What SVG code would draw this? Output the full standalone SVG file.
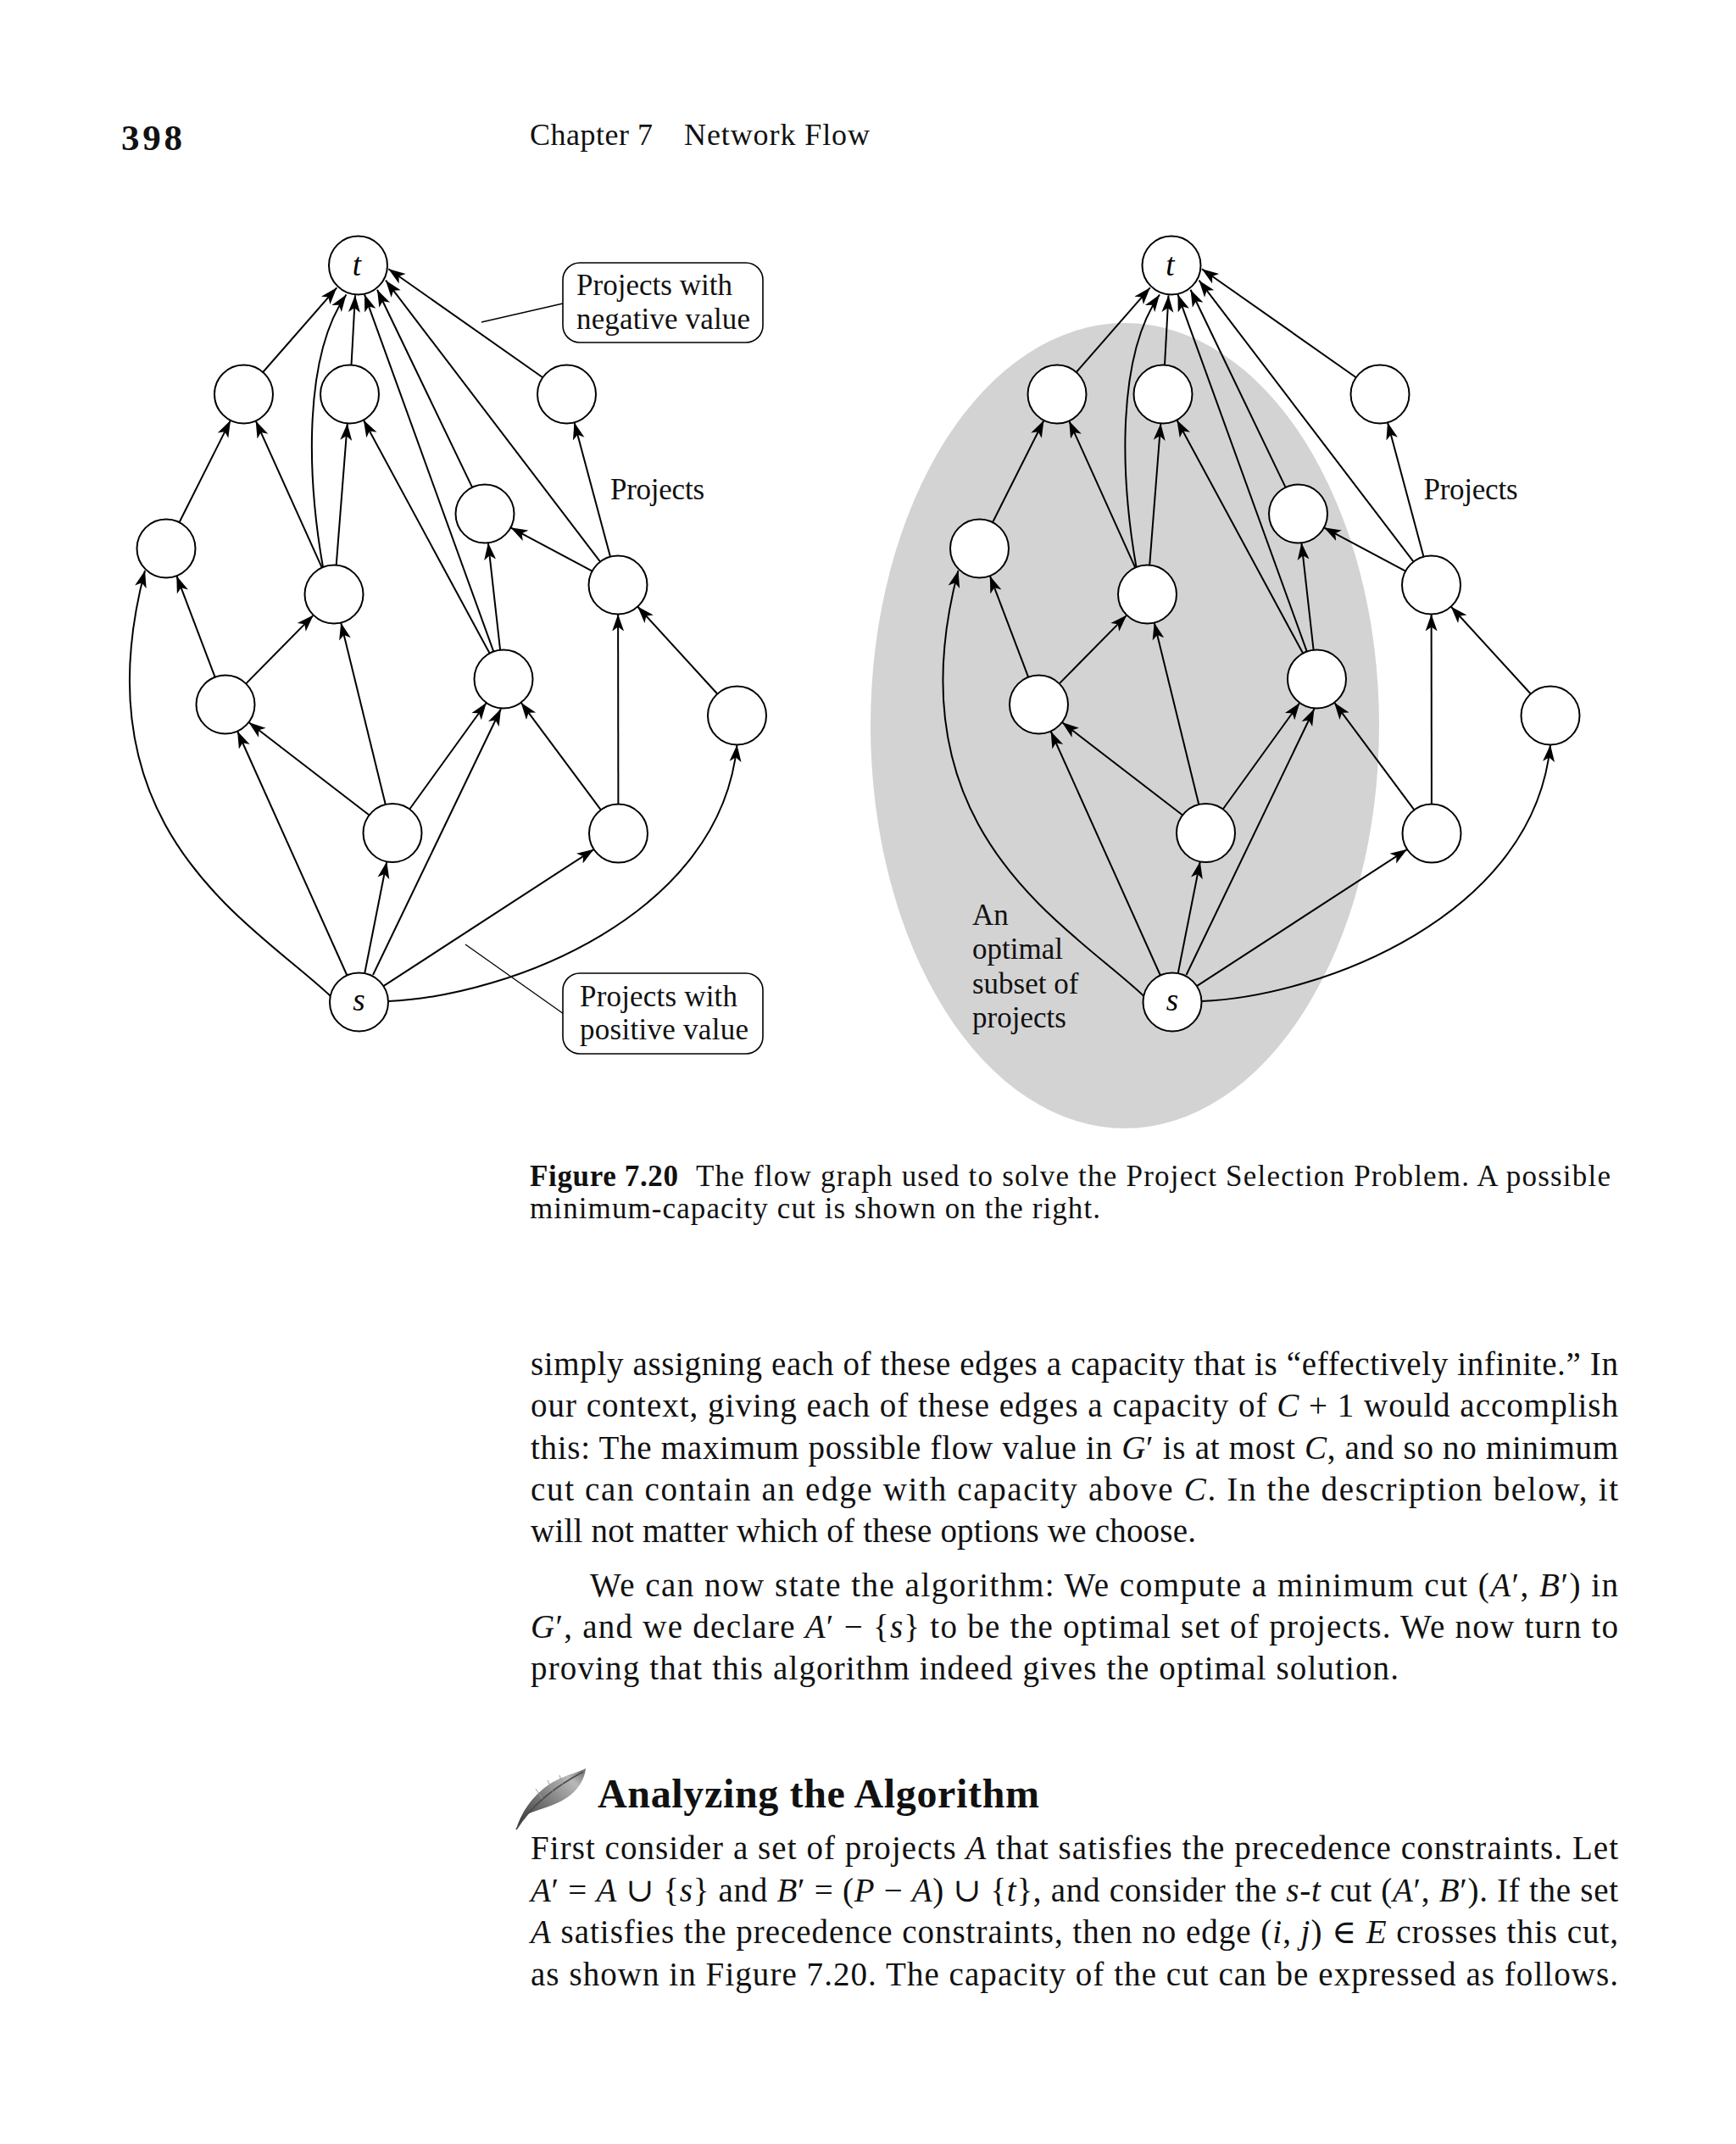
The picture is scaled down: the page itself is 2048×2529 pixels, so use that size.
<svg xmlns="http://www.w3.org/2000/svg" width="2048" height="2529" viewBox="0 0 2048 2529">
<style>
.n{fill:#fff;stroke:#000;stroke-width:2}
.e{fill:none;stroke:#000;stroke-width:2;marker-end:url(#ah)}
.lead{fill:none;stroke:#000;stroke-width:1.3}
.box{fill:#fff;stroke:#000;stroke-width:1.6}
.lbl{font-family:"Liberation Serif",serif;font-size:35px;fill:#111}
.nl{font-family:"Liberation Serif",serif;font-size:37px;font-style:italic;fill:#000;text-anchor:middle}
.body{font-family:"Liberation Serif","DejaVu Serif",serif;font-size:39px;fill:#111}
.cap{font-family:"Liberation Serif",serif;font-size:35px;fill:#111}
.i{font-style:italic}
</style>
<defs>
<marker id="ah" viewBox="0 0 20 16" markerWidth="20" markerHeight="16" refX="20" refY="8" orient="auto" markerUnits="userSpaceOnUse">
<path d="M0,1 L20,8 L0,15 L5,8 Z" fill="#000"/>
</marker>
<linearGradient id="fg" x1="0" y1="1" x2="1" y2="0">
<stop offset="0" stop-color="#303030"/>
<stop offset="0.45" stop-color="#7a7a7a"/>
<stop offset="0.8" stop-color="#b8b8b8"/>
<stop offset="1" stop-color="#6a6a6a"/>
</linearGradient>
</defs>
<rect x="0" y="0" width="2048" height="2529" fill="#fff"/>

<!-- header -->
<text x="143" y="177" font-family="Liberation Serif,serif" font-weight="bold" font-size="43" textLength="72" fill="#111">398</text>
<text x="625" y="171" font-family="Liberation Serif,serif" font-size="36" textLength="145" fill="#111">Chapter 7</text>
<text x="807" y="171" font-family="Liberation Serif,serif" font-size="36" textLength="219" fill="#111">Network Flow</text>

<!-- ===== LEFT FIGURE ===== -->
<g id="left-figure">
<g id="left-connectors">
<line class="e" x1="310.2" y1="439" x2="397.3" y2="339.3"/>
<path class="e" d="M381,669 C362,560 358,420 408.5,347.5"/>
<line class="e" x1="414.5" y1="430.5" x2="419" y2="348.3"/>
<line class="e" x1="582.3" y1="768.6" x2="430" y2="347.3"/>
<line class="e" x1="557.1" y1="574.9" x2="445" y2="341.7"/>
<line class="e" x1="708.1" y1="662.6" x2="455" y2="330.7"/>
<line class="e" x1="640.3" y1="445.2" x2="458.3" y2="317.3"/>
<line class="e" x1="211.5" y1="616.2" x2="272" y2="495.8"/>
<line class="e" x1="379.8" y1="669.6" x2="301.7" y2="496.4"/>
<line class="e" x1="396.7" y1="666.6" x2="409.8" y2="499.4"/>
<line class="e" x1="577.6" y1="770.6" x2="428.9" y2="495.4"/>
<line class="e" x1="590.1" y1="766.7" x2="575.9" y2="640.3"/>
<line class="e" x1="698.6" y1="673.7" x2="602.4" y2="622.3"/>
<line class="e" x1="720" y1="656.7" x2="677.5" y2="498.3"/>
<line class="e" x1="253.7" y1="798.8" x2="208.3" y2="679.2"/>
<line class="e" x1="290.2" y1="806.4" x2="369.8" y2="725.6"/>
<line class="e" x1="435.6" y1="961.5" x2="293.4" y2="852"/>
<line class="e" x1="454.8" y1="949" x2="402.2" y2="734.5"/>
<line class="e" x1="483.2" y1="954.5" x2="573.8" y2="829"/>
<path class="e" d="M390,1175 C300,1090 90,980 171,673"/>
<line class="e" x1="409.4" y1="1150.5" x2="280.1" y2="862.5"/>
<line class="e" x1="430.2" y1="1148.2" x2="456.3" y2="1016.3"/>
<line class="e" x1="440" y1="1150" x2="591" y2="836"/>
<line class="e" x1="452.4" y1="1163.2" x2="700.6" y2="1001.8"/>
<path class="e" d="M458,1181 C600,1175 850,1080 869.5,878.5"/>
<line class="e" x1="708.9" y1="955.3" x2="614.6" y2="828.7"/>
<line class="e" x1="729.4" y1="948.5" x2="729.1" y2="724.5"/>
<line class="e" x1="846.3" y1="818.5" x2="752.2" y2="715.5"/>
<line class="lead" x1="568" y1="380" x2="664" y2="358"/>
<line class="lead" x1="549" y1="1114" x2="665" y2="1196"/>
</g>
<g id="L-t"><circle class="n" cx="422.5" cy="313" r="34.5"/><text class="nl" x="421" y="325">t</text></g>
<g id="L-a1"><circle class="n" cx="287.5" cy="465" r="34.5"/></g>
<g id="L-a2"><circle class="n" cx="412.5" cy="465" r="34.5"/></g>
<g id="L-a3"><circle class="n" cx="668.5" cy="465" r="34.5"/></g>
<g id="L-b1"><circle class="n" cx="196" cy="647" r="34.5"/></g>
<g id="L-d"><circle class="n" cx="572" cy="606" r="34.5"/></g>
<g id="L-c"><circle class="n" cx="394" cy="701" r="34.5"/></g>
<g id="L-e"><circle class="n" cx="729" cy="690" r="34.5"/></g>
<g id="L-g"><circle class="n" cx="594" cy="801" r="34.5"/></g>
<g id="L-f"><circle class="n" cx="266" cy="831" r="34.5"/></g>
<g id="L-h"><circle class="n" cx="869.5" cy="844" r="34.5"/></g>
<g id="L-i"><circle class="n" cx="463" cy="982.5" r="34.5"/></g>
<g id="L-j"><circle class="n" cx="729.5" cy="983" r="34.5"/></g>
<g id="L-s"><circle class="n" cx="423.5" cy="1182" r="34.5"/><text class="nl" x="423.5" y="1192">s</text></g>
<g id="L-neg-box"><rect class="box" x="664" y="310" width="236" height="94" rx="20"/>
<text class="lbl" x="680" y="348" textLength="184">Projects with</text>
<text class="lbl" x="680" y="388" textLength="205">negative value</text></g>
<g id="L-pos-box"><rect class="box" x="664" y="1148" width="236" height="95" rx="20"/>
<text class="lbl" x="684" y="1187" textLength="186">Projects with</text>
<text class="lbl" x="684" y="1226" textLength="199">positive value</text></g>
<text class="lbl" x="720" y="589" textLength="111">Projects</text>
</g>

<!-- ===== RIGHT FIGURE ===== -->
<ellipse id="cut-region" cx="1327" cy="856" rx="300" ry="475" fill="#d3d3d3"/>
<g id="right-figure" transform="translate(959.5,0)">
<g id="right-connectors">
<line class="e" x1="310.2" y1="439" x2="397.3" y2="339.3"/>
<path class="e" d="M381,669 C362,560 358,420 408.5,347.5"/>
<line class="e" x1="414.5" y1="430.5" x2="419" y2="348.3"/>
<line class="e" x1="582.3" y1="768.6" x2="430" y2="347.3"/>
<line class="e" x1="557.1" y1="574.9" x2="445" y2="341.7"/>
<line class="e" x1="708.1" y1="662.6" x2="455" y2="330.7"/>
<line class="e" x1="640.3" y1="445.2" x2="458.3" y2="317.3"/>
<line class="e" x1="211.5" y1="616.2" x2="272" y2="495.8"/>
<line class="e" x1="379.8" y1="669.6" x2="301.7" y2="496.4"/>
<line class="e" x1="396.7" y1="666.6" x2="409.8" y2="499.4"/>
<line class="e" x1="577.6" y1="770.6" x2="428.9" y2="495.4"/>
<line class="e" x1="590.1" y1="766.7" x2="575.9" y2="640.3"/>
<line class="e" x1="698.6" y1="673.7" x2="602.4" y2="622.3"/>
<line class="e" x1="720" y1="656.7" x2="677.5" y2="498.3"/>
<line class="e" x1="253.7" y1="798.8" x2="208.3" y2="679.2"/>
<line class="e" x1="290.2" y1="806.4" x2="369.8" y2="725.6"/>
<line class="e" x1="435.6" y1="961.5" x2="293.4" y2="852"/>
<line class="e" x1="454.8" y1="949" x2="402.2" y2="734.5"/>
<line class="e" x1="483.2" y1="954.5" x2="573.8" y2="829"/>
<path class="e" d="M390,1175 C300,1090 90,980 171,673"/>
<line class="e" x1="409.4" y1="1150.5" x2="280.1" y2="862.5"/>
<line class="e" x1="430.2" y1="1148.2" x2="456.3" y2="1016.3"/>
<line class="e" x1="440" y1="1150" x2="591" y2="836"/>
<line class="e" x1="452.4" y1="1163.2" x2="700.6" y2="1001.8"/>
<path class="e" d="M458,1181 C600,1175 850,1080 869.5,878.5"/>
<line class="e" x1="708.9" y1="955.3" x2="614.6" y2="828.7"/>
<line class="e" x1="729.4" y1="948.5" x2="729.1" y2="724.5"/>
<line class="e" x1="846.3" y1="818.5" x2="752.2" y2="715.5"/>
</g>
<g id="R-t"><circle class="n" cx="422.5" cy="313" r="34.5"/><text class="nl" x="421" y="325">t</text></g>
<g id="R-a1"><circle class="n" cx="287.5" cy="465" r="34.5"/></g>
<g id="R-a2"><circle class="n" cx="412.5" cy="465" r="34.5"/></g>
<g id="R-a3"><circle class="n" cx="668.5" cy="465" r="34.5"/></g>
<g id="R-b1"><circle class="n" cx="196" cy="647" r="34.5"/></g>
<g id="R-d"><circle class="n" cx="572" cy="606" r="34.5"/></g>
<g id="R-c"><circle class="n" cx="394" cy="701" r="34.5"/></g>
<g id="R-e"><circle class="n" cx="729" cy="690" r="34.5"/></g>
<g id="R-g"><circle class="n" cx="594" cy="801" r="34.5"/></g>
<g id="R-f"><circle class="n" cx="266" cy="831" r="34.5"/></g>
<g id="R-h"><circle class="n" cx="869.5" cy="844" r="34.5"/></g>
<g id="R-i"><circle class="n" cx="463" cy="982.5" r="34.5"/></g>
<g id="R-j"><circle class="n" cx="729.5" cy="983" r="34.5"/></g>
<g id="R-s"><circle class="n" cx="423.5" cy="1182" r="34.5"/><text class="nl" x="423.5" y="1192">s</text></g>
<text class="lbl" x="720" y="589" textLength="111">Projects</text>
</g>
<g id="cut-label">
<text class="lbl" x="1147" y="1091">An</text>
<text class="lbl" x="1147" y="1131">optimal</text>
<text class="lbl" x="1147" y="1172">subset of</text>
<text class="lbl" x="1147" y="1212">projects</text>
</g>

<!-- caption -->
<text class="cap" x="625" y="1399" font-weight="bold" textLength="175">Figure 7.20</text>
<text class="cap" x="821" y="1399" textLength="1079">The flow graph used to solve the Project Selection Problem. A possible</text>
<text class="cap" x="625" y="1437" textLength="673">minimum-capacity cut is shown on the right.</text>

<!-- body -->
<text class="body" x="626" y="1622" textLength="1283">simply assigning each of these edges a capacity that is “effectively infinite.” In</text>
<text class="body" x="626" y="1671" textLength="1283">our context, giving each of these edges a capacity of <tspan class="i">C</tspan> + 1 would accomplish</text>
<text class="body" x="626" y="1720.5" textLength="1283">this: The maximum possible flow value in <tspan class="i">G</tspan>′ is at most <tspan class="i">C</tspan>, and so no minimum</text>
<text class="body" x="626" y="1770" textLength="1283">cut can contain an edge with capacity above <tspan class="i">C</tspan>. In the description below, it</text>
<text class="body" x="626" y="1819" textLength="785">will not matter which of these options we choose.</text>
<text class="body" x="696" y="1883" textLength="1213">We can now state the algorithm: We compute a minimum cut (<tspan class="i">A</tspan>′, <tspan class="i">B</tspan>′) in</text>
<text class="body" x="626" y="1932" textLength="1283"><tspan class="i">G</tspan>′, and we declare <tspan class="i">A</tspan>′ − {<tspan class="i">s</tspan>} to be the optimal set of projects. We now turn to</text>
<text class="body" x="626" y="1981" textLength="1024">proving that this algorithm indeed gives the optimal solution.</text>

<g id="feather">
<path d="M609,2158 C616,2134 634,2110 660,2098 C672,2093 683,2090 691,2086 C690,2098 682,2112 668,2121 C654,2130 636,2134 622,2140 C617,2146 613,2152 609,2158 Z" fill="url(#fg)"/>
<path d="M609,2158 C624,2134 650,2110 688,2090" fill="none" stroke="#4a4a4a" stroke-width="1.6"/>
<path d="M640,2122 L632,2110 M652,2113 L646,2100 M664,2105 L660,2094" fill="none" stroke="#9a9a9a" stroke-width="1"/>
</g>
<text x="705" y="2132" font-family="Liberation Serif,serif" font-weight="bold" font-size="48" textLength="521" fill="#111">Analyzing the Algorithm</text>

<text class="body" x="626" y="2193" textLength="1283">First consider a set of projects <tspan class="i">A</tspan> that satisfies the precedence constraints. Let</text>
<text class="body" x="626" y="2243" textLength="1283"><tspan class="i">A</tspan>′ = <tspan class="i">A</tspan> ∪ {<tspan class="i">s</tspan>} and <tspan class="i">B</tspan>′ = (<tspan class="i">P</tspan> − <tspan class="i">A</tspan>) ∪ {<tspan class="i">t</tspan>}, and consider the <tspan class="i">s</tspan>-<tspan class="i">t</tspan> cut (<tspan class="i">A</tspan>′, <tspan class="i">B</tspan>′). If the set</text>
<text class="body" x="626" y="2292" textLength="1283"><tspan class="i">A</tspan> satisfies the precedence constraints, then no edge (<tspan class="i">i</tspan>, <tspan class="i">j</tspan>) ∈ <tspan class="i">E</tspan> crosses this cut,</text>
<text class="body" x="626" y="2342" textLength="1283">as shown in Figure 7.20. The capacity of the cut can be expressed as follows.</text>
</svg>
